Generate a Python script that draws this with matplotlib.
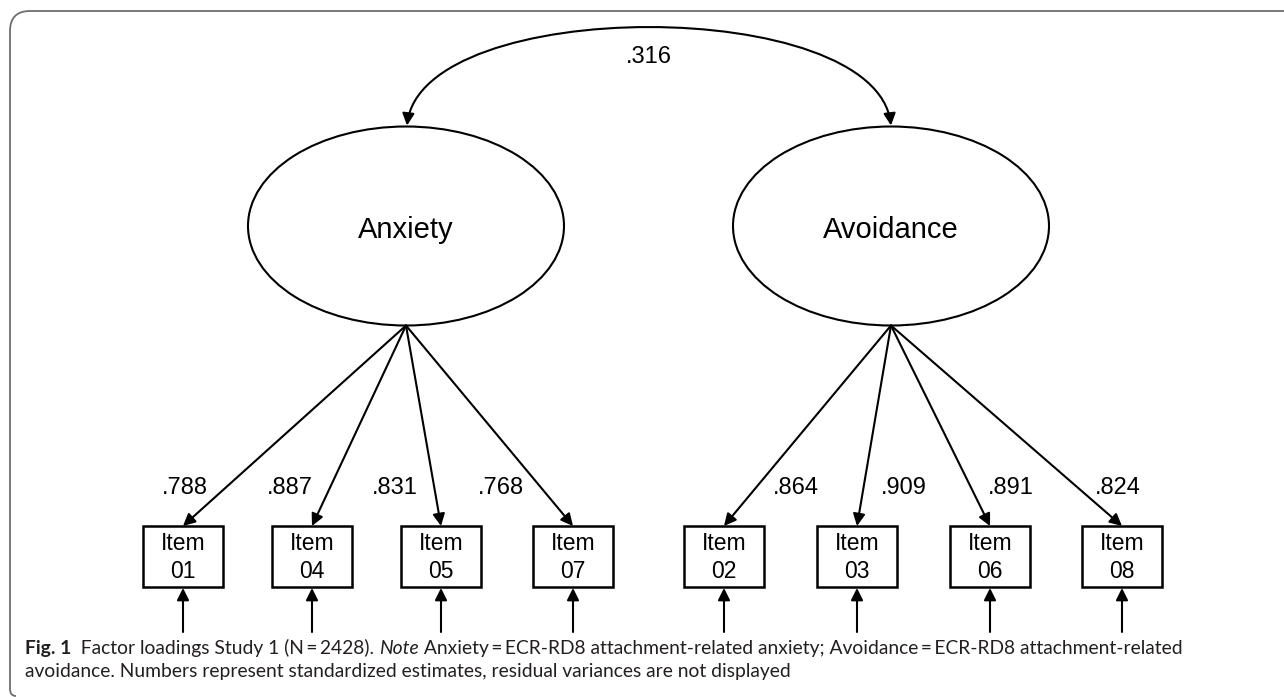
import numpy as np
import matplotlib
matplotlib.use("Agg")
from matplotlib import pyplot as plt
from matplotlib.patches import Ellipse, Rectangle, FancyArrowPatch, PathPatch
from matplotlib.path import Path

# chart content
factors = ["Anxiety", "Avoidance"]
anx_items = ["01", "04", "05", "07"]
anx_loadings = [0.788, 0.887, 0.831, 0.768]
avo_items = ["02", "03", "06", "08"]
avo_loadings = [0.864, 0.909, 0.891, 0.824]
factor_corr = 0.316

# layout (pixel coords of the 1284x697 canvas)
W, H = 1284, 697
factor_x = [406, 891]
factor_y = 226
ell_w, ell_h = 316, 199
anx_box_x = [183, 312, 441, 573]
avo_box_x = [724, 857, 990, 1122]
box_w, box_top, box_bot = 80, 526, 587
resid_bot = 632
label_y = 488

font_diag = ["Liberation Sans", "DejaVu Sans"]
font_cap = ["Lato", "DejaVu Sans"]
lw = 1.5


def fmt(v):
    return f"{v:.3f}".lstrip("0")


fig = plt.figure(figsize=(W / 100, H / 100), dpi=100)
ax = fig.add_axes([0, 0, 1, 1])
ax.set_xlim(0, W)
ax.set_ylim(H, 0)
ax.axis("off")

# frame: top and left edges with rounded corners
r = 20
frame = Path([(W, 11), (10 + r, 11), (10, 11), (10, 11 + r), (10, H - 8),
              (10, H - 1), (16, H - 1)],
             [Path.MOVETO, Path.LINETO, Path.CURVE3, Path.CURVE3, Path.LINETO,
              Path.CURVE3, Path.CURVE3])
ax.add_patch(PathPatch(frame, fill=False, ec="#6e6e6e", lw=1.3))


def arrow(p0, p1, ms=18):
    a = FancyArrowPatch(p0, p1, arrowstyle="-|>", mutation_scale=ms, lw=lw,
                        color="black", shrinkA=0, shrinkB=0)
    ax.add_patch(a)


for fx, name, items, loads, bx, side in [
        (factor_x[0], factors[0], anx_items, anx_loadings, anx_box_x, -1),
        (factor_x[1], factors[1], avo_items, avo_loadings, avo_box_x, 1)]:
    ax.add_patch(Ellipse((fx, factor_y), ell_w, ell_h, fill=False, ec="black", lw=lw))
    ax.text(fx, factor_y + 4, name, ha="center", va="center", fontsize=21,
            family=font_diag)
    bottom = (fx, factor_y + ell_h / 2)
    for it, ld, x in zip(items, loads, bx):
        ax.add_patch(Rectangle((x - box_w / 2, box_top), box_w, box_bot - box_top,
                               fill=False, ec="black", lw=lw + 0.3))
        ax.text(x, 543, "Item", ha="center", va="center", fontsize=16.5, family=font_diag)
        ax.text(x, 572, it, ha="center", va="center", fontsize=16.5, family=font_diag)
        arrow(bottom, (x, box_top))
        arrow((x, resid_bot), (x, box_bot + 1))
        t = (label_y - bottom[1]) / (box_top - bottom[1])
        lx = bottom[0] + (x - bottom[0]) * t + side * 40
        ax.text(lx, label_y, fmt(ld), ha="center", va="center", fontsize=17,
                family=font_diag)

# correlation arc between the two factors
p0 = (factor_x[0] + 1, factor_y - ell_h / 2 - 1)
p3 = (factor_x[1], factor_y - ell_h / 2 - 1)
arc = Path([p0, (p0[0] + 15, -5), (p3[0] - 15, -5), p3],
           [Path.MOVETO, Path.CURVE4, Path.CURVE4, Path.CURVE4])
ax.add_patch(FancyArrowPatch(path=arc, arrowstyle="<|-|>", mutation_scale=18, lw=lw,
                             color="black", shrinkA=0, shrinkB=0))
ax.text((p0[0] + p3[0]) / 2, 57, fmt(factor_corr), ha="center", va="center",
        fontsize=17, family=font_diag)

# caption with mixed styles
rend = fig.canvas.get_renderer()


def runs(x, y, parts, size=13.9):
    for s, kw in parts:
        t = ax.text(x, y, s, ha="left", va="baseline", fontsize=size,
                    family=font_cap, color="#231f20", **kw)
        x += t.get_window_extent(renderer=rend).width


runs(25, 654, [("Fig. 1", dict(weight="bold")),
               ("  Factor loadings Study 1 (N\u2009=\u20092428). ", {}),
               ("Note", dict(style="italic")),
               (" Anxiety\u2009=\u2009ECR-RD8 attachment-related anxiety; "
                "Avoidance\u2009=\u2009ECR-RD8 attachment-related", {})])
runs(25, 677, [("avoidance. Numbers represent standardized estimates, residual "
                "variances are not displayed", {})])

fig.savefig("out.png", dpi=100)
